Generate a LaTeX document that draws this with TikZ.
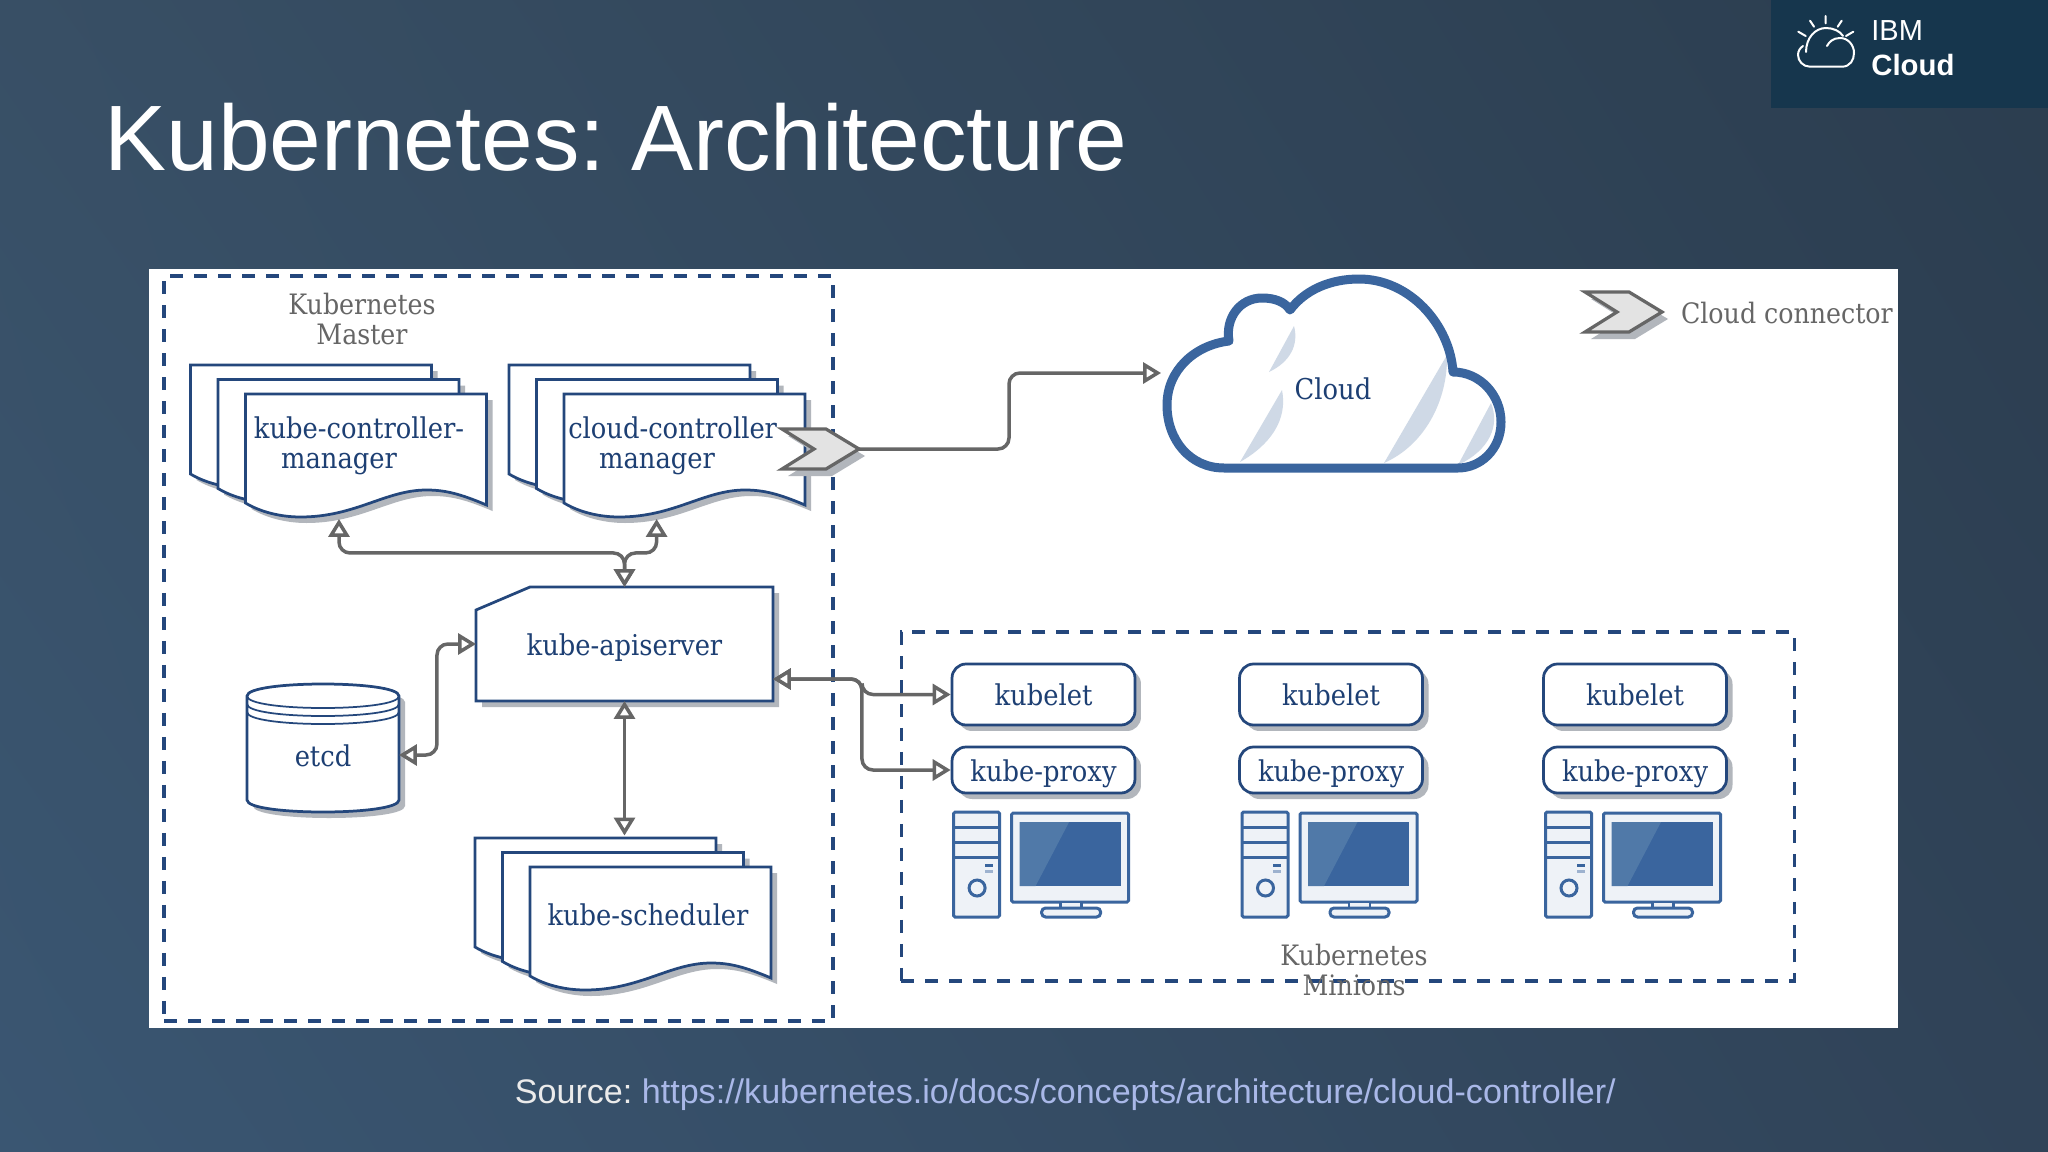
\documentclass[tikz,border=0pt]{standalone}
\usepackage{fontspec}
\setmainfont{Liberation Sans}
\newfontfamily\slab{DejaVu Serif Condensed}
\usetikzlibrary{arrows.meta,calc,shadows,shadings}
\frenchspacing

\definecolor{navy}{HTML}{24477C}
\definecolor{inktext}{HTML}{1D3F73}
\definecolor{steel}{HTML}{3A659E}
\definecolor{steellight}{HTML}{5079A8}
\definecolor{paleface}{HTML}{EEF2F7}
\definecolor{haze}{HTML}{CFD9E6}
\definecolor{arrowgray}{HTML}{666666}
\definecolor{shadowgray}{HTML}{B2B6BC}
\definecolor{badge}{HTML}{16364D}
\definecolor{linkblue}{HTML}{A9B8E8}
\definecolor{bgA}{HTML}{3A5672}
\definecolor{bgB}{HTML}{384F65}
\definecolor{bgC}{HTML}{304358}
\definecolor{bgD}{HTML}{2B3D4F}

\newcommand{\sheetoutline}{(0,0) -- (241,0) -- (241,111)
    .. controls (215,100) and (200,96) .. (181,96)
    .. controls (140,96) and (110,123) .. (55,123)
    .. controls (35,123) and (15,118) .. (0,109) -- cycle}
\newcommand{\chevronoutline}{(0,0) -- (44,0) -- (77,20) -- (44,40) -- (0,40) -- (32,20) -- cycle}
\newcommand{\etcdoutline}{(247,696) .. controls (247,680) and (399,680) .. (399,696) -- (399,800)
    .. controls (399,816) and (247,816) .. (247,800) -- cycle}
\newcommand{\apioutline}{(476,610) -- (530,587) -- (773,587) -- (773,701) -- (476,701) -- cycle}

\begin{document}
\begin{tikzpicture}[
        x=0.02cm, y=-0.02cm,
        >={Triangle[fill=white,length=0.36cm,width=0.42cm]},
        biarrow/.style={<->, draw=arrowgray, line width=0.07cm, rounded corners=0.22cm},
        oneway/.style={->, draw=arrowgray, line width=0.07cm, rounded corners=0.22cm},
        dashbox/.style={rectangle, draw=navy, line width=0.065cm, dash pattern=on 0.26cm off 0.22cm, inner sep=0pt},
        outline/.style={draw=navy, line width=0.055cm, fill=white},
        hidden/.style={inner sep=0pt, outer sep=0pt, align=center},
        bluetext/.style={text=inktext, font=\slab\fontsize{16.3}{17}\selectfont},
        oneline/.style={text height=0.44cm, text depth=0cm},
        graytext/.style={text=arrowgray, font=\slab\fontsize{16}{17.6}\selectfont},
        podbox/.style={rectangle, rounded corners=0.28cm, outline, minimum width=3.66cm, inner sep=0pt, bluetext, oneline,
            drop shadow={shadow xshift=0.12cm, shadow yshift=-0.12cm, fill=shadowgray, opacity=1}},
        sheet/.pic={
            \fill[shadowgray, shift={(6,6)}] \sheetoutline;
            \draw[outline] \sheetoutline;
        },
        docstack/.pic={
            \pic at (0,0) {sheet};
            \pic at (27.5,14.5) {sheet};
            \pic at (55,29) {sheet};
        },
        chevron/.pic={
            \fill[shadowgray, shift={(6,7)}] \chevronoutline;
            \draw[fill=black!11, draw=arrowgray, line width=0.065cm, line join=miter] \chevronoutline;
        },
        workstation/.pic={
            % Tower
            \draw[steel, fill=paleface, line width=0.06cm, rounded corners=0.03cm] (0,0) rectangle (46,105);
            \draw[steel, line width=0.06cm] (0,15) -- (46,15) (0,30) -- (46,30) (0,45) -- (46,45);
            \draw[steel, line width=0.06cm] (23.5,76) circle (0.16cm);
            \fill[steel] (31,51.5) rectangle (39,54.5);
            \fill[steel!50] (31,57.5) rectangle (39,60.5);
            % Monitor
            \draw[steel, fill=paleface, line width=0.06cm, rounded corners=0.03cm] (58,1) rectangle (175,90);
            \fill[steel] (66,10) rectangle (167,74);
            \fill[steellight] (66,10) -- (115.5,10) -- (82,74) -- (66,74) -- cycle;
            \draw[steel, fill=paleface, line width=0.05cm] (107,90) rectangle (128,96);
            \draw[steel, fill=paleface, line width=0.06cm, rounded corners=0.08cm] (88,96) rectangle (147,105);
        }
    ]

    % Slide background
    \shade[lower left=bgA, upper left=bgB, lower right=bgC, upper right=bgD] (0,0) rectangle (2048,1152);
    \useasboundingbox (0,0) rectangle (2048,1152);

    % Title and badge
    \node[anchor=base west, inner sep=0pt, text=white, font=\fontsize{52.9}{60}\selectfont] (title) at (104,171) {Kubernetes: Architecture};
    \fill[badge] (1771,0) rectangle (2048,108);
    \node[anchor=base west, inner sep=0pt, text=white, font=\fontsize{16.5}{20}\selectfont] (ibm) at (1871,41) {IBM};
    \node[anchor=base west, inner sep=0pt, text=white, font=\fontsize{16.7}{20}\bfseries] (ibmcloud) at (1871,76) {Cloud};
    \draw[white, line width=0.04cm, line cap=round]
        (1825.7,16) -- (1825.7,23.3) (1810,20.7) -- (1814,26.7) (1841.7,20.7) -- (1837.7,26.7)
        (1798.3,31.7) -- (1805.7,36) (1853.3,31.7) -- (1846,36)
        (1827,46) .. controls (1829,42) and (1833,38) .. (1840,38)
        .. controls (1848,38) and (1854,45) .. (1854,53)
        .. controls (1854,60) and (1850,66.7) .. (1842,66.7) -- (1810,66.7)
        .. controls (1803,66.7) and (1798,61) .. (1798,55)
        .. controls (1798,51) and (1800,48) .. (1803,46)
        (1806,52) .. controls (1806,38) and (1815,28) .. (1826,28)
        .. controls (1833,28) and (1840,31) .. (1843,36);

    % Diagram panel
    \fill[white] (149,269) rectangle (1898,1028);
    \node[dashbox, minimum width=13.38cm, minimum height=14.9cm] (master) at (498.5,648.5) {};
    \node[dashbox, minimum width=17.87cm, minimum height=6.98cm] (minions) at (1348,806.5) {};

    % Master
    \node[hidden, graytext] (masterlabel) at (362,319) {Kubernetes\\Master};
    \pic at (190.5,365) {docstack};
    \pic at (509,365) {docstack};
    \pic at (475,838) {docstack};
    \node[hidden, bluetext, minimum height=2.92cm] (kcm) at (359,446) {kube-controller-\\manager\hspace*{0.8cm}};
    \node[hidden, bluetext, minimum height=2.92cm] (ccm) at (672.6,446) {cloud-controller\\manager\hspace*{0.62cm}};
    \node[hidden, bluetext, oneline, minimum height=3.14cm] (sched) at (648,914) {kube-scheduler};

    \fill[shadowgray, shift={(6,6)}] \apioutline;
    \draw[outline] \apioutline;
    \node[hidden, bluetext, oneline, minimum width=5.94cm, minimum height=2.28cm] (apiserver) at (624.5,644) {kube-apiserver};

    \fill[shadowgray, shift={(6,6)}] \etcdoutline;
    \draw[outline] \etcdoutline;
    \draw[navy, line width=0.035cm]
        (247,696) .. controls (247,712) and (399,712) .. (399,696)
        (247,704) .. controls (247,720) and (399,720) .. (399,704)
        (247,712) .. controls (247,728) and (399,728) .. (399,712);
    \node[hidden, bluetext, oneline, minimum width=3.04cm, minimum height=2.4cm] (etcd) at (323,755) {etcd};

    % Cloud
    \fill[haze] (1294,326) .. controls (1299,345) and (1290,362) .. (1269,372) -- cycle;
    \fill[haze] (1282,390) .. controls (1288,420) and (1270,445) .. (1240,462) -- cycle;
    \fill[haze] (1447,355) .. controls (1448,400) and (1425,445) .. (1384,463) -- cycle;
    \fill[haze] (1491,403) .. controls (1500,425) and (1490,450) .. (1458,465) -- cycle;
    \draw[steel, line width=0.18cm, line join=round]
        (1224,468) .. controls (1190,468) and (1167,440) .. (1167,405)
        .. controls (1167,370) and (1195,345) .. (1229,341)
        .. controls (1225,318) and (1240,298) .. (1262,298)
        .. controls (1275,298) and (1285,302) .. (1290,310)
        .. controls (1305,290) and (1330,279) .. (1359,279)
        .. controls (1410,279) and (1450,325) .. (1453,372)
        .. controls (1480,372) and (1501,395) .. (1501,422)
        .. controls (1501,450) and (1480,468) .. (1458,468) -- cycle;
    \node[hidden, bluetext, oneline, minimum width=6.88cm] (cloud) at (1333,389) {Cloud};

    % Legend
    \pic at (1585,292) {chevron};
    \node[anchor=west, hidden, graytext] (legend) at (1681,313) {Cloud connector};

    % Minions
    \foreach \col/\cx/\wx in {1/1043.5/953.6, 2/1331/1242, 3/1635/1545.5} {
        \node[podbox, minimum height=1.22cm] (kubelet\col) at (\cx,694.5) {kubelet};
        \node[podbox, minimum height=0.92cm] (proxy\col) at (\cx,770) {kube-proxy};
        \pic at (\wx,812) {workstation};
    }
    \node[hidden, graytext] (minionlabel) at (1354,970) {Kubernetes\\Minions};

    % Arrows
    \draw[biarrow] ($(kcm.south)+(-20,0)$) -- ++(0,34) -| (apiserver.north);
    \draw[biarrow] ($(ccm.south)+(-16,0)$) -- ++(0,34) -| (apiserver.north);
    \draw[biarrow] (etcd.east) -- ++(38,0) |- (apiserver.west);
    \draw[biarrow] (apiserver.south) -- (sched.north -| apiserver.south);
    \draw[biarrow] ($(apiserver.east)+(0,35)$) -- ++(89,0) |- (kubelet1.west);
    \draw[biarrow] ($(apiserver.east)+(0,35)$) -- ++(89,0) |- (proxy1.west);

    % Cloud connector
    \pic at (782,429) {chevron};
    \node[hidden, minimum width=1.54cm, minimum height=0.8cm] (connector) at (820.5,449) {};
    \draw[oneway] (connector.east) -- ++(150,0) |- ($(cloud.west)+(0,-16)$);

    % Source
    \node[anchor=base west, inner sep=0pt, text=white!92!black, font=\fontsize{19.4}{24}\selectfont] (source) at (514.6,1103)
        {Source: \textcolor{linkblue}{https://kubernetes.io/docs/concepts/architecture/cloud-controller/}};

\end{tikzpicture}
\end{document}
